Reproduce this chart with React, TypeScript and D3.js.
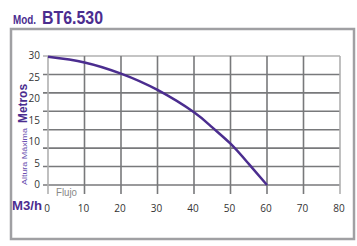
import React, { useRef, useEffect } from 'react';
import * as d3 from 'd3';

const flowTicks = [0, 10, 20, 30, 40, 50, 60, 70, 80];
const heightTicks = [0, 5, 10, 15, 20, 25, 30];
const curveFlow = [0, 10, 20, 30, 40, 45, 50, 55, 60];
const curveHeight = [29.8, 28.5, 25.9, 22.1, 16.9, 13.4, 9.6, 4.9, 0];
const gridRows = 7;

const purple = '#4b2d8f';

const App = () => {
    const ref = useRef<SVGSVGElement>(null);

    useEffect(() => {
        const svg = d3.select(ref.current);
        svg.selectAll('*').remove();

        const x = d3.scaleLinear().domain([0, 80]).range([48, 340]);
        const y = d3.scaleLinear().domain([0, 30]).range([185, 56]);
        const font = '"Liberation Sans", Arial, sans-serif';

        // outer frame
        svg.append('rect')
            .attr('x', 11).attr('y', 29).attr('width', 343).attr('height', 210)
            .attr('fill', 'white').attr('stroke', '#a0a0a3').attr('stroke-width', 2.5);

        // title (condensed look via textLength)
        svg.append('text').attr('x', 13).attr('y', 24)
            .attr('fill', purple).attr('font-family', font).attr('font-weight', 'bold')
            .attr('font-size', 13).attr('textLength', 23).attr('lengthAdjust', 'spacingAndGlyphs')
            .text('Mod.');
        svg.append('text').attr('x', 42).attr('y', 24)
            .attr('fill', purple).attr('font-family', font).attr('font-weight', 'bold')
            .attr('font-size', 18).attr('textLength', 61).attr('lengthAdjust', 'spacingAndGlyphs')
            .text('BT6.530');

        const g = svg.append('g');

        // horizontal grid lines (image grid has 7 rows)
        const rows = d3.range(gridRows + 1).map(i => 30 * i / gridRows);
        g.selectAll('line.h').data(rows).join('line')
            .attr('x1', 43).attr('x2', 340)
            .attr('y1', d => y(d)).attr('y2', d => y(d))
            .attr('stroke', d => d === 30 ? '#b0b0b0' : '#78797b')
            .attr('stroke-width', 1.6);

        // vertical grid lines
        g.selectAll('line.v').data(flowTicks).join('line')
            .attr('x1', d => x(d)).attr('x2', d => x(d))
            .attr('y1', y(30)).attr('y2', 194)
            .attr('stroke', d => (d === 0 || d === 80) ? '#b0b0b0' : '#78797b')
            .attr('stroke-width', 1.6);

        // y labels
        g.selectAll('text.yl').data(heightTicks).join('text')
            .attr('x', 40).attr('y', d => y(d) + 0.7)
            .attr('text-anchor', 'end').attr('dominant-baseline', 'middle')
            .attr('font-family', '"Open Sans", sans-serif').attr('font-size', 10)
            .attr('fill', '#333').text(d => d);

        // x labels
        g.selectAll('text.xl').data(flowTicks).join('text')
            .attr('x', d => x(d) - 1).attr('y', 212)
            .attr('text-anchor', 'middle')
            .attr('font-family', '"Open Sans", sans-serif').attr('font-size', 10)
            .attr('fill', '#333').text(d => d);

        // curve
        const line = d3.line<number>()
            .x((d, i) => x(curveFlow[i]))
            .y(d => y(d))
            .curve(d3.curveNatural);
        g.append('path').datum(curveHeight)
            .attr('fill', 'none').attr('stroke', purple).attr('stroke-width', 2.5)
            .attr('d', line);

        // axis titles
        svg.append('text')
            .attr('transform', 'translate(27,185) rotate(-90)')
            .attr('font-family', font).attr('font-size', 7.5).attr('fill', '#6a4fb0')
            .attr('textLength', 57).attr('lengthAdjust', 'spacingAndGlyphs')
            .text('Altura Máxima');
        svg.append('text')
            .attr('transform', 'translate(27,123) rotate(-90)')
            .attr('font-family', font).attr('font-size', 13).attr('font-weight', 'bold')
            .attr('fill', purple).attr('textLength', 39).attr('lengthAdjust', 'spacingAndGlyphs')
            .text('Metros');

        svg.append('text').attr('x', 56).attr('y', 196)
            .attr('font-family', font).attr('font-size', 10).attr('fill', '#888')
            .attr('textLength', 21).attr('lengthAdjust', 'spacingAndGlyphs')
            .text('Flujo');

        svg.append('text').attr('x', 12).attr('y', 210)
            .attr('font-family', font).attr('font-size', 13).attr('font-weight', 'bold')
            .attr('fill', purple).attr('textLength', 30).attr('lengthAdjust', 'spacingAndGlyphs')
            .text('M3/h');
    }, []);

    return (
        <svg ref={ref} width={357} height={246} style={{ position: 'absolute', left: 0, top: 0 }}></svg>
    );
};

export default App;
